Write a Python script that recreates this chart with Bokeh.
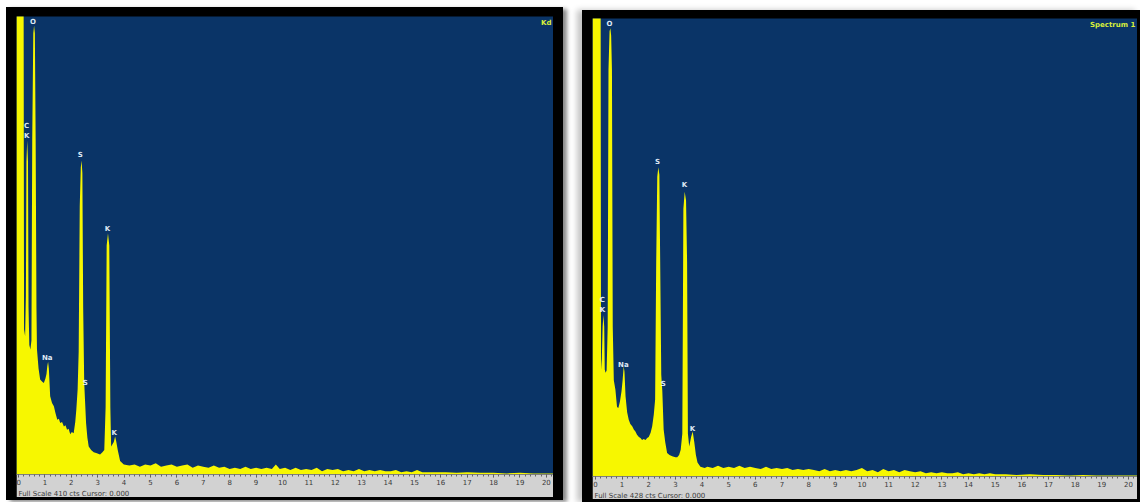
from bokeh.plotting import figure
from bokeh.layouts import row, column
from bokeh.models import ColumnDataSource, SingleIntervalTicker, Label, Range1d, Title
from bokeh.core.properties import value
from bokeh.embed import file_html
from bokeh.resources import INLINE

# ---------------- data ----------------
# Left spectrum (energy keV, counts)
energy_left = [-0.08, 0.17, 0.19, 0.21, 0.25, 0.28, 0.30, 0.33, 0.36, 0.38, 0.41, 0.45, 0.49,
               0.52, 0.56, 0.59, 0.62, 0.65, 0.68, 0.70, 0.76, 0.82, 0.90, 0.96, 1.02, 1.06,
               1.09, 1.12, 1.15, 1.20, 1.27, 1.34, 1.40, 1.47, 1.53, 1.58, 1.65, 1.72, 1.78,
               1.84, 1.90, 1.96, 2.02, 2.09, 2.15, 2.19, 2.24, 2.28, 2.32, 2.36, 2.39, 2.42,
               2.45, 2.49, 2.56, 2.61, 2.66, 2.75, 2.85, 2.97, 3.09, 3.18, 3.25, 3.30, 3.34,
               3.39, 3.44, 3.48, 3.51, 3.56, 3.61, 3.66, 3.70, 3.76, 3.85, 3.99,
               4.2, 4.4, 4.6, 4.8, 5.0, 5.2, 5.4, 5.6, 5.8, 6.0, 6.2, 6.4, 6.6, 6.8, 7.0,
               7.2, 7.4, 7.6, 7.8, 8.0, 8.2, 8.4, 8.6, 8.8, 9.0, 9.2, 9.4, 9.6, 9.75, 9.9,
               10.1, 10.3, 10.5, 10.7, 10.9, 11.1, 11.3, 11.5, 11.7, 11.9, 12.1, 12.3, 12.5,
               12.7, 12.9, 13.1, 13.3, 13.5, 13.7, 13.9, 14.1, 14.3, 14.5, 14.7, 14.9, 15.1,
               15.3, 15.5, 15.8, 16.2, 16.6, 17.0, 17.5, 18.0, 18.5, 19.0, 19.5, 20.0, 20.3]
counts_left = [1500, 1500, 500, 130, 124, 160, 280, 299, 280, 150, 116, 112, 120,
               300, 395, 402, 395, 300, 150, 112, 95, 85, 83, 82, 86, 90,
               97, 101, 95, 70, 64, 61, 55, 49, 50, 46, 47, 43, 44,
               40, 41, 36, 38, 37, 47, 58, 76, 110, 240, 275, 281, 270,
               150, 82, 46, 33, 25, 22, 20, 19, 18, 20, 22, 60, 205,
               216, 205, 60, 25, 27, 29, 34, 30, 22, 12, 9,
               8, 9, 7, 9, 8, 10, 7, 8, 9, 7, 8, 9, 6, 8, 7,
               6, 8, 6, 7, 5, 6, 5, 7, 5, 6, 5, 6, 5, 9, 5,
               6, 4, 6, 4, 5, 4, 6, 3, 5, 4, 5, 3, 4,
               3, 5, 3, 4, 3, 4, 3, 3, 4, 2, 3, 2, 4,
               2, 2, 2, 2, 1.5, 2, 1.5, 1.5, 1, 1.5, 1, 1, 1]

# Right spectrum (energy keV, counts)
energy_right = [-0.11, 0.17, 0.19, 0.21, 0.24, 0.27, 0.30, 0.33, 0.35, 0.38, 0.42, 0.46,
                0.49, 0.53, 0.56, 0.59, 0.62, 0.65, 0.69, 0.75, 0.81, 0.86, 0.92, 0.98,
                1.02, 1.06, 1.09, 1.13, 1.19, 1.25, 1.31, 1.38, 1.44, 1.50, 1.56, 1.63,
                1.69, 1.75, 1.81, 1.88, 1.94, 2.00, 2.07, 2.13, 2.19, 2.24, 2.28, 2.32,
                2.36, 2.40, 2.43, 2.47, 2.51, 2.56, 2.62, 2.69, 2.78, 2.88, 3.00, 3.07,
                3.14, 3.20, 3.26, 3.30, 3.35, 3.40, 3.44, 3.47, 3.52, 3.59, 3.65, 3.71,
                3.77, 3.83, 3.94, 4.1,
                4.2, 4.4, 4.6, 4.8, 5.0, 5.2, 5.4, 5.6, 5.8, 6.0, 6.2, 6.4, 6.6, 6.8, 7.0,
                7.2, 7.4, 7.6, 7.8, 8.0, 8.2, 8.4, 8.6, 8.8, 9.0, 9.2, 9.4, 9.6, 9.8, 10.0,
                10.2, 10.4, 10.6, 10.8, 11.0, 11.2, 11.4, 11.6, 11.8, 12.0, 12.2, 12.4,
                12.6, 12.8, 13.0, 13.2, 13.4, 13.6, 13.8, 14.0, 14.2, 14.4, 14.6, 14.8,
                15.0, 15.4, 15.8, 16.3, 16.8, 17.3, 17.8, 18.3, 18.8, 19.3, 19.8, 20.4]
counts_right = [1500, 1500, 600, 100, 110, 140, 151, 140, 100, 97, 99, 140,
                380, 416, 419, 412, 380, 140, 90, 81, 65, 64, 70, 80,
                90, 103, 98, 75, 60, 53, 49, 47, 44, 42, 39, 37,
                36, 34, 35, 34, 36, 37, 41, 47, 58, 72, 200, 280,
                289, 282, 200, 95, 80, 44, 32, 22, 20, 19, 18, 18,
                20, 25, 40, 250, 266, 258, 200, 40, 28, 37, 42, 32,
                20, 13, 9, 8,
                9, 8, 10, 8, 9, 8, 10, 8, 9, 8, 7, 9, 7, 8, 7,
                8, 6, 7, 6, 7, 6, 5, 7, 5, 6, 5, 6, 5, 6, 8,
                5, 6, 4, 7, 5, 6, 4, 6, 5, 4, 5, 3,
                4, 3, 4, 3, 3, 4, 2, 3, 2, 3, 2, 3,
                2, 2, 1.5, 2, 1.5, 1.5, 1, 1.5, 1, 1, 1, 1]

# Peak labels
lbl_text_left = ["C", "K", "O", "Na", "S", "S", "K", "K"]
lbl_e_left = [0.31, 0.31, 0.55, 1.09, 2.34, 2.53, 3.37, 3.63]
lbl_c_left = [312, 303, 405, 104, 286, 82, 220, 37]

lbl_text_right = ["C", "K", "O", "Na", "S", "S", "K", "K"]
lbl_e_right = [0.26, 0.26, 0.53, 1.05, 2.33, 2.55, 3.34, 3.64]
lbl_c_right = [165, 156, 423, 104, 294, 86, 272, 44]

full_scale_left = 410
full_scale_right = 428
footer_left = "Full Scale 410 cts Cursor: 0.000"
footer_right = "Full Scale 428 cts Cursor: 0.000"
tag_left = "Kd"
tag_right = "Spectrum 1"

BLUE = "#0a3467"
YEL = "#f7f700"
GRAY = "#d2d2d2"
TXT = "#3a3a3a"


def make_panel(energy, counts, full_scale, xr, lbl_e, lbl_c, lbl_t, tag, footer, w, h):
    p = figure(width=w, height=h, x_range=Range1d(*xr), y_range=Range1d(0, full_scale),
               output_backend="svg", toolbar_location=None, y_axis_location=None,
               background_fill_color=BLUE, border_fill_color=GRAY,
               min_border_left=0, min_border_right=0, min_border_top=0, min_border_bottom=0)
    p.grid.visible = False
    p.outline_line_color = None
    p.varea(x=energy, y1=0, y2=counts, fill_color=YEL)
    src = ColumnDataSource(dict(e=lbl_e, c=lbl_c, t=lbl_t))
    p.text(x="e", y="c", text="t", source=src, text_font=value("DejaVu Sans"),
           text_font_size=value("7px"), text_font_style="bold", text_color="#dfe9f5",
           text_align="center", text_baseline="middle")
    p.add_layout(Label(x=xr[1] - 0.08, y=full_scale * 0.985, text=tag, text_align="right",
                       text_baseline="middle", text_font_size="7px", text_font_style="bold",
                       text_color="#d9f03a", text_font="DejaVu Sans"))
    ax = p.xaxis[0]
    ax.ticker = SingleIntervalTicker(interval=1, num_minor_ticks=5)
    ax.major_label_text_font_size = "7px"
    ax.major_label_text_font = "DejaVu Sans"
    ax.major_label_text_color = TXT
    ax.major_label_standoff = 1
    ax.axis_line_color = "#808080"
    ax.major_tick_line_color = "#555555"
    ax.minor_tick_line_color = "#666666"
    ax.major_tick_out = 3
    ax.major_tick_in = 0
    ax.minor_tick_out = 2
    ax.minor_tick_in = 0
    p.add_layout(Title(text=footer, align="left", offset=2, standoff=0,
                       text_font_size="7px", text_font_style="normal", text_color=TXT,
                       text_font="DejaVu Sans"), "below")
    return p


# left panel inside a black padded frame
p1 = make_panel(energy_left, counts_left, full_scale_left, (-0.076, 20.27),
                lbl_e_left, lbl_c_left, lbl_text_left, tag_left, footer_left, 537, 481)
wrap1 = column(p1, styles={"background-color": "black", "padding": "9px 10px 3px 10px",
                           "box-shadow": "4px 2px 4px #8a8a8a"})
wrap1.margin = (7, 0, 0, 6)

# right panel inside a black padded frame
p2 = make_panel(energy_right, counts_right, full_scale_right, (-0.11, 20.34),
                lbl_e_right, lbl_c_right, lbl_text_right, tag_right, footer_right, 545, 481)
wrap2 = column(p2, styles={"background-color": "black", "padding": "8px 3px 3px 10px",
                           "box-shadow": "-5px 0px 6px #c4c4c4"})
wrap2.margin = (10, 0, 0, 19)

layout = row(wrap1, wrap2, spacing=0)
open("out.html", "w").write(file_html(layout, INLINE))
